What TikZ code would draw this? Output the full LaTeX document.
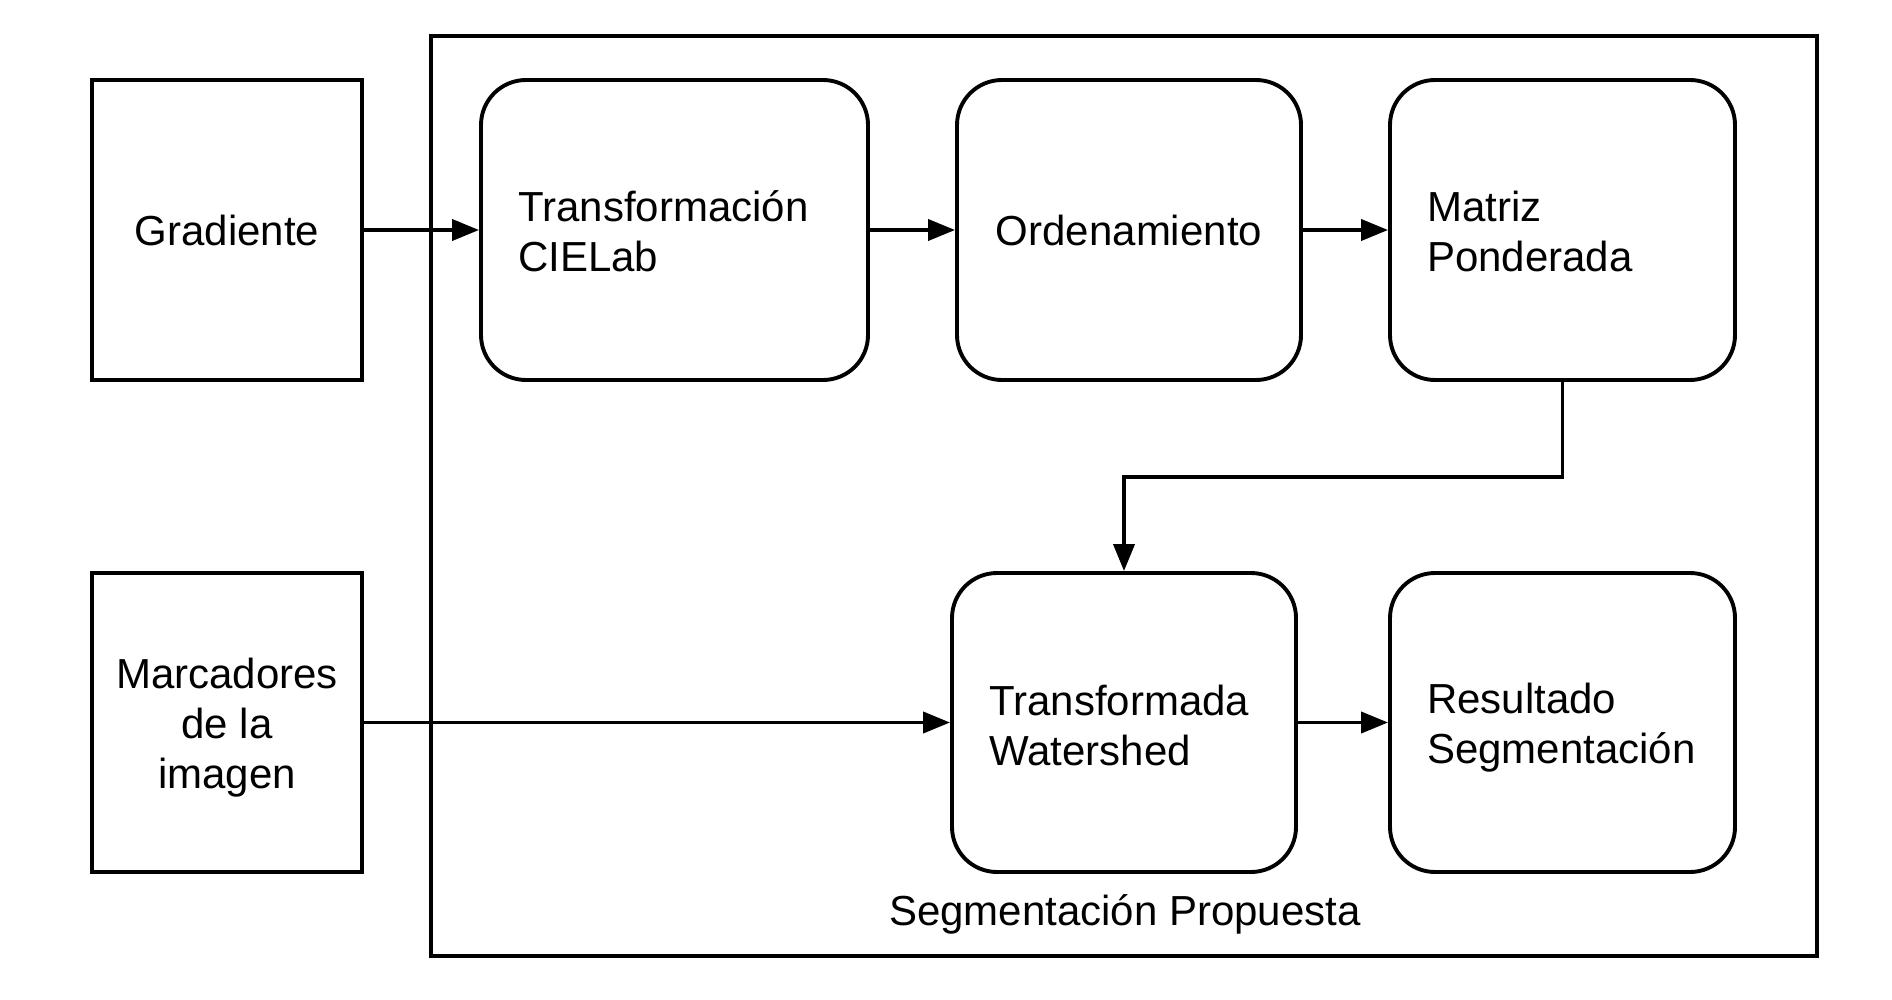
\documentclass[tikz,border=0pt]{standalone}
\usepackage{fontspec}
\setmainfont{Liberation Sans}
\usetikzlibrary{arrows.meta,calc}
\begin{document}
\begin{tikzpicture}[x=1pt,y=-1pt,
  every node/.style={font=\fontsize{42}{50}\selectfont},
  sqbox/.style={draw=black,line width=3.9pt,minimum width=270pt,minimum height=300pt,inner sep=0pt},
  rbox/.style={draw=black,line width=3.9pt,rounded corners=45pt,minimum height=300pt,inner sep=0pt},
  txt/.style={align=left,anchor=west,inner sep=0pt},
  arr/.style={line width=3.9pt,-{Triangle[length=27pt,width=21pt]}}
]
\useasboundingbox (0,0) rectangle (1892,1000);
% outer container
\node[draw=black,line width=3.9pt,minimum width=1386pt,minimum height=920pt,inner sep=0pt] (outer) at (1124,496) {};
\node (outerlabel) at (1125,914) {Segmentación Propuesta};
% input boxes
\node[sqbox] (grad) at (227,230) {Gradiente};
\node[sqbox,minimum height=299pt] (marc) at (227,722.5) {};
\node[align=center,inner sep=0pt] (marctxt) at (227,727.5) {Marcadores\\de la\\imagen};
% process boxes
\node[rbox,minimum width=387pt] (cie) at (674.5,230) {};
\node[txt] (cietxt) at (518,231) {Transformación\\CIELab};
\node[rbox,minimum width=344pt] (orden) at (1129,230) {Ordenamiento};
\node[rbox,minimum width=345pt] (matriz) at (1562.5,230) {};
\node[txt] (matriztxt) at (1427,231) {Matriz\\Ponderada};
\node[rbox,minimum width=344pt,minimum height=299pt] (water) at (1124,722.5) {};
\node[txt] (watertxt) at (989,725) {Transformada\\Watershed};
\node[rbox,minimum width=345pt,minimum height=299pt] (res) at (1562.5,722.5) {};
\node[txt] (restxt) at (1427,728) {Resultado\\Segmentación};
\coordinate (bend) at (0,477);
% connectors
\draw[arr] (grad.east) -- (cie.west);
\draw[arr] (cie.east) -- (orden.west);
\draw[arr] (orden.east) -- (matriz.west);
\draw[arr] (matriz.south) -- (matriz.south |- bend) -| (water.north);
\draw[arr] (marc.east |- water.west) -- (water.west);
\draw[arr] (water.east) -- (res.west);
\end{tikzpicture}
\end{document}
